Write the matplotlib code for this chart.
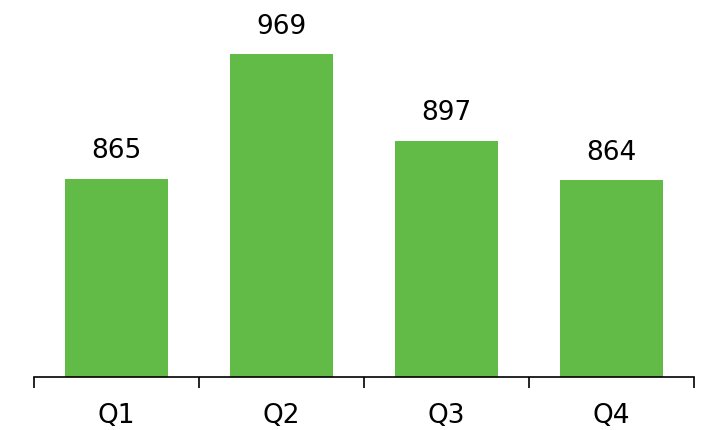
import matplotlib
matplotlib.use("Agg")
import matplotlib.pyplot as plt
import numpy as np

quarters = ["Q1", "Q2", "Q3", "Q4"]
values = [865, 969, 897, 864]
bar_color = "#63BB47"

fig = plt.figure(figsize=(7.01, 4.31), dpi=100)
ax = fig.add_axes([34/701, 53/431, 660/701, 360/431])

x = np.arange(len(quarters))
ax.bar(x, values, width=0.625, color=bar_color)
for xi, v in zip(x, values):
    ax.text(xi, v + 13, str(v), ha="center", va="bottom", fontsize=19, color="black")

ax.set_xlim(-0.5, len(quarters) - 0.5)
ax.set_ylim(700, 1000)
ax.set_yticks([])
ax.set_xticks(np.arange(len(quarters) + 1) - 0.5)
ax.set_xticklabels([])
ax.set_xticks(x, minor=True)
ax.set_xticklabels(quarters, minor=True, fontsize=19)
ax.tick_params(axis="x", which="major", length=8, width=1.2, color="black", direction="out")
ax.tick_params(axis="x", which="minor", length=0, pad=18)
for s in ["top", "right", "left"]:
    ax.spines[s].set_visible(False)
ax.spines["bottom"].set_linewidth(1.2)

fig.savefig("out.png", dpi=100)
